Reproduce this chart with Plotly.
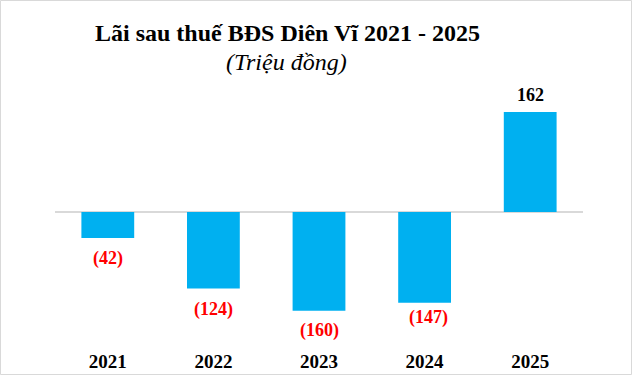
import plotly.graph_objects as go

years = ["2021", "2022", "2023", "2024", "2025"]
profit = [-42, -124, -160, -147, 162]
label_text = ["(42)", "(124)", "(160)", "(147)", "162"]
label_colors = ["#FF0000", "#FF0000", "#FF0000", "#FF0000", "#000000"]

# per-label pixel nudges (layout only)
label_dx = [0, 0, 0, 4, 0]
label_dy = [-8, -8, -7, -2, 5]

W, H = 633, 376
L, R, T, B = 55, 50, 80, 31
PW, PH = W - L - R, H - T - B

fig = go.Figure()
fig.add_trace(go.Bar(
    x=years, y=profit,
    marker=dict(color="#00B0F0", line=dict(width=0)),
    hoverinfo="x+y",
))

for i, (v, t, c) in enumerate(zip(profit, label_text, label_colors)):
    fig.add_annotation(
        x=i, y=v, text="<b>%s</b>" % t, showarrow=False,
        xref="x", yref="y", xanchor="center",
        yanchor="top" if v < 0 else "bottom",
        xshift=label_dx[i], yshift=label_dy[i],
        font=dict(family="Liberation Serif", size=18, color=c),
    )

fig.add_annotation(
    x=(287.5 - L) / PW, y=(H - B - 33) / PH, xref="paper", yref="paper",
    xanchor="center", yanchor="middle",
    text="<b>Lãi sau thuế BĐS Diên Vĩ 2021 - 2025</b>", showarrow=False,
    font=dict(family="Liberation Serif", size=24, color="#000000"),
)
fig.add_annotation(
    x=(286 - L) / PW, y=(H - B - 62) / PH, xref="paper", yref="paper",
    xanchor="center", yanchor="middle",
    text="<i>(Triệu đồng)</i>", showarrow=False,
    font=dict(family="Liberation Serif", size=24, color="#000000"),
)

# outer chart border
fig.add_shape(
    type="rect", xref="paper", yref="paper",
    x0=-(L - 0.5) / PW, x1=1 + (R - 1.5) / PW,
    y0=-(B - 1.5) / PH, y1=1 + (T - 0.5) / PH,
    line=dict(color="#D9D9D9", width=1), layer="below",
)

fig.update_layout(
    width=W, height=H,
    margin=dict(l=L, r=R, t=T, b=B, pad=0, autoexpand=False),
    paper_bgcolor="white", plot_bgcolor="white",
    showlegend=False,
    bargap=0.5,
    xaxis=dict(
        type="category", categoryorder="array", categoryarray=years,
        range=[-0.5, len(years) - 0.5], autorange=False, automargin=False,
        showgrid=False, showline=False, zeroline=False,
        ticks="", ticklabelstandoff=3,
        tickfont=dict(family="Liberation Serif", size=19, color="#000000", weight="bold"),
    ),
    yaxis=dict(
        range=[-215.5, 214], autorange=False, automargin=False,
        showgrid=False, showticklabels=False,
        showline=False, zeroline=True, zerolinecolor="#D9D9D9", zerolinewidth=1.5,
        ticks="",
    ),
)

fig.write_html(
    "out.html",
    config={"displayModeBar": False},
    post_script="document.body.style.margin='0';document.body.style.overflow='hidden';",
)
